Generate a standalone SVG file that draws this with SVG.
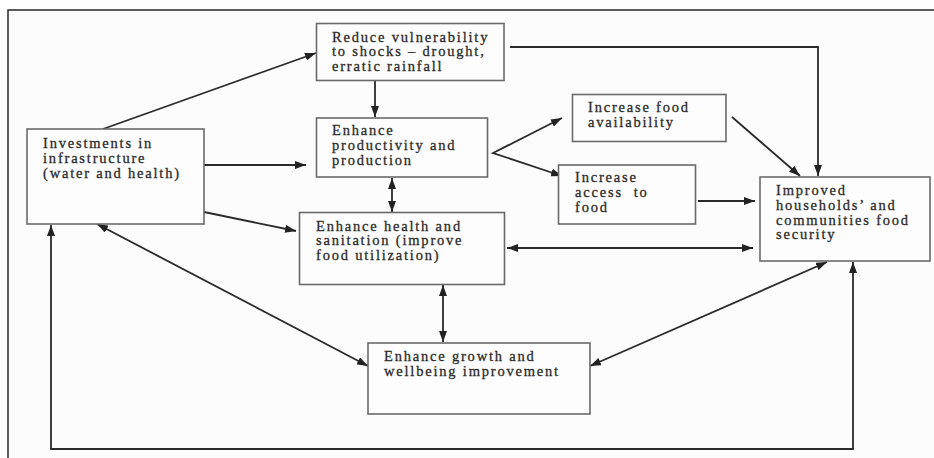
<svg xmlns="http://www.w3.org/2000/svg" width="934" height="458" viewBox="0 0 934 458">
  <defs>
    <marker id="ah" viewBox="0 0 11 8" refX="11" refY="4" markerWidth="11" markerHeight="8" markerUnits="userSpaceOnUse" orient="auto-start-reverse">
      <path d="M0,0 L11,4 L0,8 z" fill="#222"/>
    </marker>
  </defs>
  <style>
    .box { fill: #fdfdfd; stroke: #6a6a6a; stroke-width: 1.6; }
    .lbl { font-family: "Liberation Serif", "Times New Roman", serif; font-size: 14.5px; letter-spacing: 1.8px; fill: #2b2b2b; stroke: #2b2b2b; stroke-width: 0.3; white-space: pre; }
    .con { fill: none; stroke: #2a2a2a; stroke-width: 1.8; }
    .one { marker-end: url(#ah); }
    .two { marker-start: url(#ah); marker-end: url(#ah); }
  </style>
  <rect x="0" y="0" width="934" height="458" fill="#ffffff"/>
  <rect x="8" y="10" width="940" height="460" fill="#fcfcfc" stroke="#333" stroke-width="1.6"/>

  <g id="connectors">
    <line class="con one" x1="103" y1="129" x2="316" y2="53"/>
    <line class="con one" x1="375" y1="81" x2="375" y2="117"/>
    <line class="con one" x1="204" y1="165" x2="306" y2="165"/>
    <line class="con one" x1="204" y1="212" x2="296" y2="231"/>
    <line class="con two" x1="392" y1="178" x2="392" y2="212"/>
    <polyline class="con" points="562,118 493,153 562,176" style="marker-start:url(#ah);marker-end:url(#ah)"/>
    <polyline class="con one" points="510,47 818,47 818,176"/>
    <line class="con one" x1="732" y1="117" x2="800" y2="176"/>
    <line class="con one" x1="698" y1="201" x2="755" y2="201"/>
    <line class="con two" x1="507" y1="248" x2="753" y2="248"/>
    <line class="con two" x1="443" y1="285" x2="443" y2="342"/>
    <line class="con two" x1="97" y1="224" x2="368" y2="366"/>
    <line class="con two" x1="590" y1="366" x2="827" y2="262"/>
    <polyline class="con two" points="853,262 853,449 51,449 51,225"/>
  </g>

  <g id="investments">
    <rect class="box" x="27" y="129" width="177" height="95"/>
    <text class="lbl" x="43" y="147.5">Investments in</text>
    <text class="lbl" x="43" y="162.5">infrastructure</text>
    <text class="lbl" x="43" y="177.5">(water and health)</text>
  </g>

  <g id="reduce">
    <rect class="box" x="316.5" y="23.5" width="187.5" height="57"/>
    <text class="lbl" x="332" y="41.5">Reduce vulnerability</text>
    <text class="lbl" x="332" y="56">to shocks – drought,</text>
    <text class="lbl" x="332" y="70.5">erratic rainfall</text>
  </g>

  <g id="productivity">
    <rect class="box" x="316.5" y="118" width="171" height="59"/>
    <text class="lbl" x="332" y="135">Enhance</text>
    <text class="lbl" x="332" y="150">productivity and</text>
    <text class="lbl" x="332" y="164.5">production</text>
  </g>

  <g id="health">
    <rect class="box" x="299.5" y="212.5" width="205" height="72"/>
    <text class="lbl" x="316" y="230.5">Enhance health and</text>
    <text class="lbl" x="316" y="245">sanitation (improve</text>
    <text class="lbl" x="316" y="260">food utilization)</text>
  </g>

  <g id="growth">
    <rect class="box" x="368" y="343" width="222" height="71"/>
    <text class="lbl" x="384" y="361">Enhance growth and</text>
    <text class="lbl" x="384" y="376">wellbeing improvement</text>
  </g>

  <g id="availability">
    <rect class="box" x="572.5" y="94.5" width="153.5" height="47"/>
    <text class="lbl" x="588" y="111.5">Increase food</text>
    <text class="lbl" x="588" y="126.5">availability</text>
  </g>

  <g id="access">
    <rect class="box" x="558.5" y="165" width="137" height="59"/>
    <text class="lbl" x="575" y="181.5">Increase</text>
    <text class="lbl" x="575" y="196.5">access  to</text>
    <text class="lbl" x="575" y="211.5">food</text>
  </g>

  <g id="foodsecurity">
    <rect class="box" x="760" y="177" width="170" height="84"/>
    <text class="lbl" x="776" y="195">Improved</text>
    <text class="lbl" x="776" y="209.5">households’ and</text>
    <text class="lbl" x="776" y="224.5">communities food</text>
    <text class="lbl" x="776" y="239">security</text>
  </g>
</svg>
